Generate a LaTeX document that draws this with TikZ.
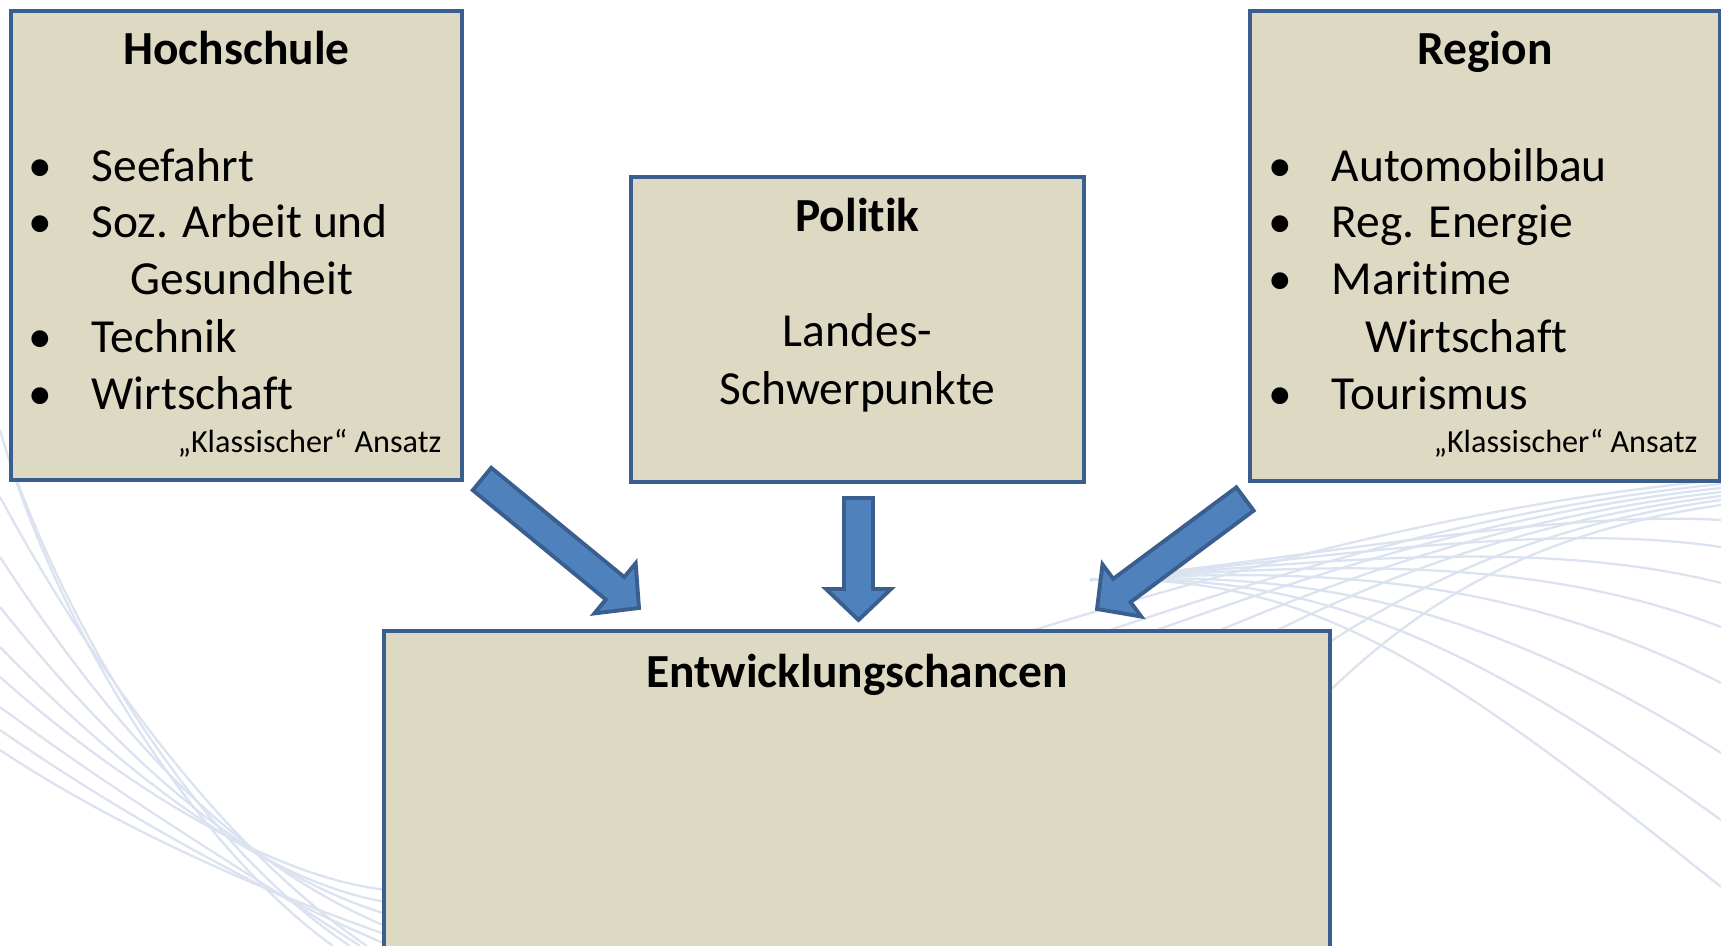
\documentclass[tikz,border=0pt]{standalone}
\usepackage{fontspec}
\setmainfont{Carlito}[Ligatures=NoCommon]
\usetikzlibrary{calc}
\definecolor{boxfill}{HTML}{DDD9C3}
\definecolor{boxline}{HTML}{3A5F8E}
\definecolor{arrfill}{HTML}{4F81BD}
\definecolor{bgline}{HTML}{DCE3F0}
\tikzset{
  box/.style={draw=boxline, line width=1.2pt, fill=boxfill, rectangle, inner sep=0pt},
  arrowst/.style={draw=boxline, line width=1.1pt, fill=arrfill, line join=miter},
  bg/.style={draw=bgline, line width=0.65pt},
  txt/.style={inner sep=0pt, anchor=base west, font=\fontsize{13.5}{16}\selectfont},
  ttl/.style={inner sep=0pt, anchor=base, font=\fontsize{13.5}{16}\selectfont\bfseries},
  ctr/.style={inner sep=0pt, anchor=base, font=\fontsize{13.5}{16}\selectfont},
  small/.style={inner sep=0pt, anchor=base east, font=\fontsize{9.15}{11}\selectfont},
}
\newcommand{\blockarr}[2]{%
  \coordinate (hb) at ($(#2)!0.31cm!(#1)$);
  \path[arrowst] ($(#1)!0.145cm!90:(#2)$) -- ($(hb)!0.145cm!90:(#2)$) -- ($(hb)!0.325cm!90:(#2)$) -- (#2)
    -- ($(hb)!0.325cm!-90:(#2)$) -- ($(hb)!0.145cm!-90:(#2)$) -- ($(#1)!0.145cm!-90:(#2)$) -- cycle;}
\begin{document}
\begin{tikzpicture}[x={(0.01cm,0)}, y={(0,-0.01cm)}]
\useasboundingbox (0,0) rectangle (1721,946);
\clip (0,0) rectangle (1721,946);
\fill[white] (0,0) rectangle (1721,946);
% background curves left
\draw[bg] (0,430) .. controls (60,640) and (200,850) .. (333,946);
\draw[bg] (13,470) .. controls (90,680) and (220,860) .. (350,946);
\draw[bg] (0,497) .. controls (110,700) and (240,860) .. (367,946);
\draw[bg] (0,557) .. controls (120,740) and (240,870) .. (400,932);
\draw[bg] (0,607) .. controls (130,770) and (260,880) .. (400,918);
\draw[bg] (0,647) .. controls (140,790) and (280,890) .. (400,904);
\draw[bg] (0,677) .. controls (150,810) and (300,886) .. (400,891);
\draw[bg] (0,707) .. controls (140,810) and (260,880) .. (360,946);
\draw[bg] (0,730) .. controls (130,820) and (260,890) .. (390,946);
\draw[bg] (0,750) .. controls (120,830) and (280,900) .. (420,946);
% background curves right (family A, converging at upper right)
\draw[bg] (1000,640) .. controls (1200,580) and (1450,505) .. (1721,480);
\draw[bg] (1050,650) .. controls (1230,590) and (1460,510) .. (1721,484);
\draw[bg] (1100,650) .. controls (1270,590) and (1470,515) .. (1721,488);
\draw[bg] (1150,660) .. controls (1300,595) and (1480,520) .. (1721,492);
\draw[bg] (1200,670) .. controls (1330,600) and (1490,525) .. (1721,496);
\draw[bg] (1260,690) .. controls (1370,610) and (1500,530) .. (1721,500);
\draw[bg] (1310,710) .. controls (1400,620) and (1510,535) .. (1721,505);
% family B (arcs bending down to the right)
\draw[bg] (1090,580) .. controls (1300,560) and (1550,510) .. (1721,520);
\draw[bg] (1090,580) .. controls (1300,562) and (1540,520) .. (1721,547);
\draw[bg] (1090,580) .. controls (1300,564) and (1530,535) .. (1721,583);
\draw[bg] (1090,580) .. controls (1300,566) and (1520,550) .. (1721,627);
\draw[bg] (1090,580) .. controls (1300,568) and (1500,570) .. (1721,683);
\draw[bg] (1090,580) .. controls (1300,570) and (1480,600) .. (1721,753);
\draw[bg] (1090,580) .. controls (1300,572) and (1450,625) .. (1721,820);
\draw[bg] (1090,580) .. controls (1300,574) and (1420,645) .. (1721,887);
% boxes
\node[box, minimum width=4.51cm, minimum height=4.69cm] (hs) at (236.5,245.5) {};
\node[box, minimum width=4.69cm, minimum height=4.70cm] (rg) at (1485,246) {};
\node[box, minimum width=4.53cm, minimum height=3.05cm] (po) at (857.5,329.5) {};
\node[box, minimum width=9.46cm, minimum height=3.80cm] (ec) at (857,821) {};
% Hochschule text
\node[ttl] (hst) at (236.5,65) {Hochschule};
\node[txt] (hb1) at (28,182) {•};
\node[txt] (hi1) at (91,182) {Seefahrt};
\node[txt] (hb2) at (28,238) {•};
\node[txt] (hi2) at (91,238) {Soz. Arbeit und};
\node[txt] (hi2b) at (130,295) {Gesundheit};
\node[txt] (hb3) at (28,353) {•};
\node[txt] (hi3) at (91,353) {Technik};
\node[txt] (hb4) at (28,410) {•};
\node[txt] (hi4) at (91,410) {Wirtschaft};
\node[small] (hsk) at (442,453) {„Klassischer“ Ansatz};
% Region text
\node[ttl] (rgt) at (1485,65) {Region};
\node[txt] (rb1) at (1268,182) {•};
\node[txt] (ri1) at (1331,182) {Automobilbau};
\node[txt] (rb2) at (1268,238) {•};
\node[txt] (ri2) at (1331,238) {Reg. Energie};
\node[txt] (rb3) at (1268,295) {•};
\node[txt] (ri3) at (1331,295) {Maritime};
\node[txt] (ri3b) at (1365,353) {Wirtschaft};
\node[txt] (rb4) at (1268,410) {•};
\node[txt] (ri4) at (1331,410) {Tourismus};
\node[small] (rgk) at (1698,453) {„Klassischer“ Ansatz};
% Politik text
\node[ttl] (pot) at (857.5,232) {Politik};
\node[ctr] (po1) at (857.5,347) {Landes-};
\node[ctr] (po2) at (857.5,405) {Schwerpunkte};
% Entwicklungschancen
\node[ttl] (ect) at (857,687) {Entwicklungschancen};
% arrows
\coordinate (la) at (482,479);
\coordinate (lt) at (639,608);
\coordinate (ma) at (858.5,498);
\coordinate (mt) at (858.5,620);
\coordinate (ra) at (1245,499);
\coordinate (rt) at (1097,609);
\blockarr{la}{lt}
\blockarr{ma}{mt}
\blockarr{ra}{rt}
\end{tikzpicture}
\end{document}
